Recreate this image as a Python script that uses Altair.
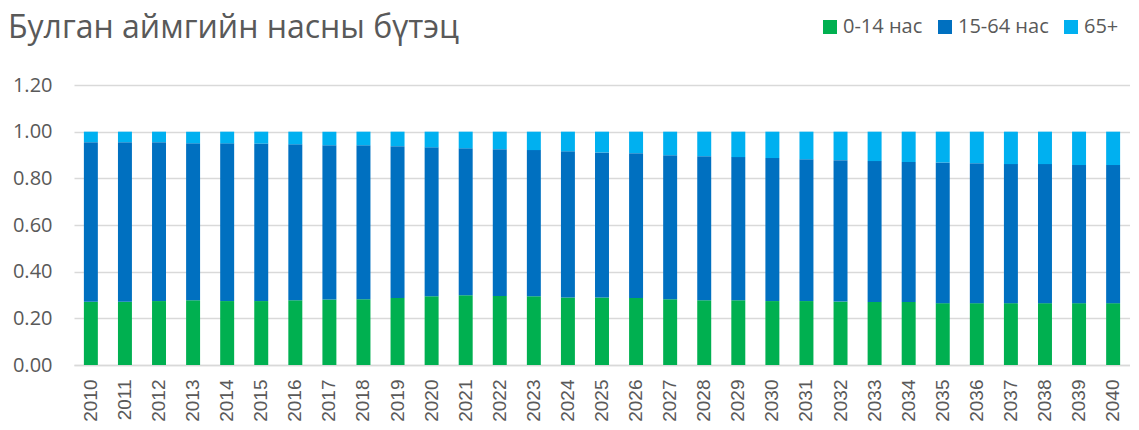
import altair as alt
import pandas as pd

title_text = "Булган аймгийн насны бүтэц"
years = [str(y) for y in range(2010, 2041)]
# cumulative tops
top_0_14 = [0.271, 0.271, 0.274, 0.278, 0.274, 0.274, 0.278, 0.281, 0.282, 0.287,
            0.295, 0.299, 0.296, 0.295, 0.289, 0.289, 0.287, 0.282, 0.278, 0.278,
            0.274, 0.274, 0.272, 0.270, 0.270, 0.265, 0.265, 0.265, 0.265, 0.265, 0.265]
top_15_64 = [0.955, 0.955, 0.955, 0.950, 0.950, 0.949, 0.946, 0.942, 0.942, 0.938,
             0.933, 0.929, 0.925, 0.921, 0.916, 0.911, 0.908, 0.899, 0.895, 0.891,
             0.887, 0.882, 0.878, 0.874, 0.870, 0.868, 0.865, 0.861, 0.861, 0.857, 0.857]

groups = ["0-14 нас", "15-64 нас", "65+"]
colors = ["#00B050", "#0070C0", "#00B0F0"]

rows = []
for i, yr in enumerate(years):
    shares = [top_0_14[i], top_15_64[i] - top_0_14[i], 1.0 - top_15_64[i]]
    for k, g in enumerate(groups):
        rows.append({"year": yr, "group": g, "value": round(shares[k], 4), "ord": k})
df = pd.DataFrame(rows)

FONT = "Open Sans"
GREY = "#595959"

bars = alt.Chart(df).mark_bar().encode(
    x=alt.X("year:N", sort=years, title=None,
            scale=alt.Scale(paddingInner=0.59, paddingOuter=0.29),
            axis=alt.Axis(labelAngle=-90, labelFontSize=19, labelColor=GREY,
                          labelFont="Liberation Sans",
                          ticks=False, domainColor="#D9D9D9", domainWidth=1.5,
                          labelPadding=14, labelBaseline="middle")),
    y=alt.Y("value:Q", stack="zero", title=None,
            scale=alt.Scale(domain=[0, 1.2], nice=False),
            axis=alt.Axis(values=[0, 0.2, 0.4, 0.6, 0.8, 1.0, 1.2], format=".2f",
                          labelFontSize=20, labelColor=GREY, labelFont=FONT,
                          ticks=False, domain=False, gridColor="#D9D9D9", gridWidth=1.3,
                          labelPadding=22)),
    color=alt.Color("group:N", scale=alt.Scale(domain=groups, range=colors),
                    legend=alt.Legend(title=None, orient="none", direction="horizontal",
                                      legendX=746, legendY=-68, symbolType="square",
                                      symbolSize=196, symbolStrokeWidth=0,
                                      labelFontSize=20, labelColor=GREY, labelFont=FONT,
                                      columnPadding=12, labelOffset=3)),
    order=alt.Order("ord:Q", sort="ascending"),
)

title = alt.Chart(pd.DataFrame({"t": [title_text]})).mark_text(
    align="left", baseline="alphabetic", fontSize=32, font=FONT, color=GREY
).encode(x=alt.value(-66), y=alt.value(-47), text="t:N")

chart = alt.layer(bars, title).properties(
    width=1056, height=280,
    autosize=alt.AutoSizeParams(type="none"),
    padding={"left": 66, "top": 77, "right": 0, "bottom": 57},
).configure_view(stroke=None)

chart.save("out.html", embed_options={"renderer": "svg", "actions": False})
